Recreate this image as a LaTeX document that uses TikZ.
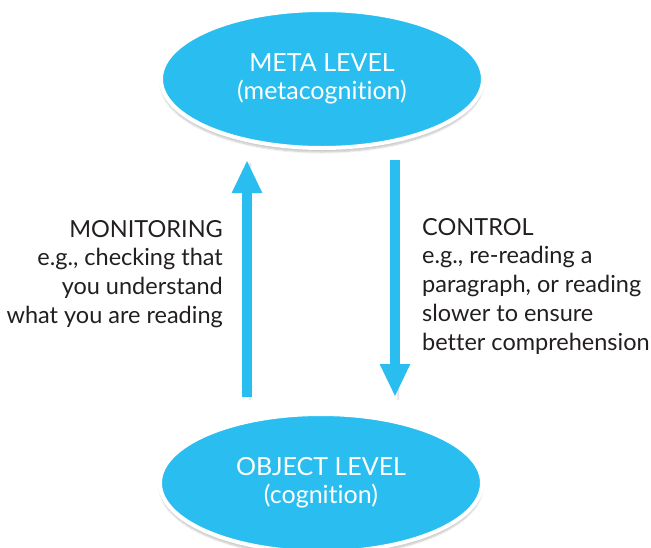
\documentclass[tikz,border=0pt]{standalone}
\usepackage{fontspec}
\setmainfont{Lato}[Ligatures=NoCommon]
\usetikzlibrary{shapes.geometric,arrows.meta,shadows.blur}
\definecolor{levelblue}{RGB}{41,190,239}
\definecolor{inktext}{RGB}{35,31,32}

\begin{document}
\begin{tikzpicture}
  [x=1pt,y=-1pt,
   level/.style={ellipse,fill=levelblue,draw=white,line width=4pt,
     minimum width=322,minimum height=138,inner sep=0,text=white,align=center,
     font=\fontsize{25}{28}\selectfont,
     blur shadow={shadow xshift=0pt,shadow yshift=-4pt,shadow blur steps=8,shadow opacity=25}},
   flow/.style={draw=levelblue,line width=10pt,-{Triangle[width=28pt,length=33pt]},
     blur shadow={shadow xshift=3pt,shadow yshift=-3pt,shadow blur steps=6,shadow opacity=20}},
   side/.style={inner sep=0,text=inktext,font=\fontsize{23.5}{28.7}\selectfont}]
  \useasboundingbox (0,0) rectangle (651,547);

  \node[level] (meta) at (322,79) {META LEVEL\\(metacognition)};
  \node[level] (object) at (321,483) {OBJECT LEVEL\\(cognition)};

  \coordinate (monbot) at (247,397);
  \coordinate (montop) at (247,160);
  \coordinate (contop) at (395,160);
  \coordinate (conbot) at (395,397);

  \draw[flow] (monbot) -- (montop);
  \draw[flow] (contop) -- (conbot);

  \node[side,align=right,anchor=north east] (monitoring) at (223,220)
    {MONITORING\\e.g., checking that\\you understand\\what you are reading};
  \node[side,align=left,anchor=north west] (control) at (422,218)
    {CONTROL\\e.g., re-reading a\\paragraph, or reading\\slower to ensure\\better comprehension};

\end{tikzpicture}
\end{document}
